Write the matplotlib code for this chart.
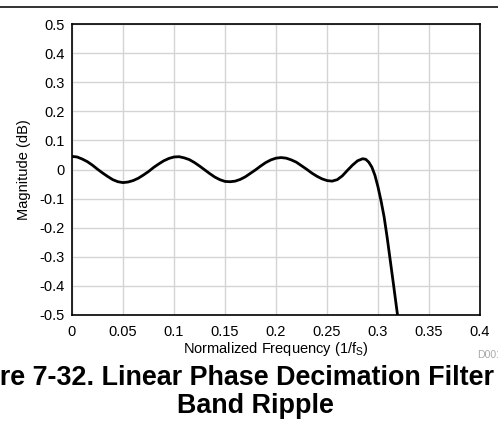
import matplotlib
matplotlib.use('Agg')
from matplotlib import pyplot as plt
from matplotlib.lines import Line2D

plt.rcParams['font.family'] = ['Liberation Sans', 'DejaVu Sans']
plt.rcParams['mathtext.fontset'] = 'custom'
plt.rcParams['mathtext.rm'] = 'Liberation Sans'
plt.rcParams['mathtext.it'] = 'Liberation Sans:italic'

# pass-band ripple
freq = [0.000, 0.005, 0.010, 0.015, 0.020, 0.025, 0.030, 0.035, 0.040, 0.045,
        0.050, 0.055, 0.060, 0.065, 0.070, 0.075, 0.080, 0.085, 0.090, 0.095,
        0.100, 0.105, 0.110, 0.115, 0.120, 0.125, 0.130, 0.135, 0.140, 0.145,
        0.150, 0.155, 0.160, 0.165, 0.170, 0.175, 0.180, 0.185, 0.190, 0.195,
        0.200, 0.205, 0.210, 0.215, 0.220, 0.225, 0.230, 0.235, 0.240, 0.245,
        0.250, 0.255, 0.260, 0.265, 0.270, 0.275, 0.280, 0.285, 0.288, 0.291,
        0.294, 0.297, 0.300, 0.303, 0.306, 0.309, 0.312, 0.315, 0.318, 0.321]
mag_db = [0.045, 0.043, 0.036, 0.027, 0.015, 0.001, -0.012, -0.024, -0.035, -0.042,
          -0.045, -0.043, -0.038, -0.030, -0.019, -0.007, 0.007, 0.019, 0.030, 0.038,
          0.043, 0.044, 0.040, 0.034, 0.024, 0.012, -0.001, -0.014, -0.026, -0.035,
          -0.041, -0.042, -0.040, -0.034, -0.025, -0.013, -0.001, 0.012, 0.024, 0.033,
          0.039, 0.041, 0.039, 0.033, 0.025, 0.013, 0.001, -0.012, -0.023, -0.032,
          -0.038, -0.040, -0.035, -0.022, -0.003, 0.015, 0.030, 0.037, 0.035, 0.025,
          0.008, -0.020, -0.060, -0.108, -0.163, -0.234, -0.312, -0.390, -0.470, -0.548]

xticks = [0, 0.05, 0.1, 0.15, 0.2, 0.25, 0.3, 0.35, 0.4]
xlabels = ['0', '0.05', '0.1', '0.15', '0.2', '0.25', '0.3', '0.35', '0.4']
yticks = [0.5, 0.4, 0.3, 0.2, 0.1, 0, -0.1, -0.2, -0.3, -0.4, -0.5]
ylabels = ['0.5', '0.4', '0.3', '0.2', '0.1', '0', '-0.1', '-0.2', '-0.3', '-0.4', '-0.5']

fig = plt.figure(figsize=(4.98, 4.34), dpi=100)
ax = fig.add_axes([72/498, 1-315/434, 408/498, 291/434])

ax.plot(freq, mag_db, color='black', linewidth=2)
ax.set_xlim(0, 0.4)
ax.set_ylim(-0.5, 0.5)
ax.set_xticks(xticks)
ax.set_xticklabels(xlabels)
ax.set_yticks(yticks)
ax.set_yticklabels(ylabels)
ax.tick_params(length=0, labelsize=10.5)
ax.tick_params(axis='x', pad=7)
ax.tick_params(axis='y', pad=5)
ax.grid(True, color='#d4d4d4', linewidth=1)
ax.set_axisbelow(True)
for s in ax.spines.values():
    s.set_linewidth(1.2)
ax.set_xlabel('Normalized Frequency (1/f$_\\mathrm{S}$)', fontsize=10.5, labelpad=1)
ax.set_ylabel('Magnitude (dB)', fontsize=10.5, labelpad=6)

# rule across the top of the page
fig.add_artist(Line2D([0, 1], [1-7/434, 1-7/434], color='#222222', linewidth=1.3))

fig.text(477/498, 1-355/434, 'D001', color='#aaaaaa', fontsize=7.6, va='center', ha='left')

# caption runs off the left edge in the reference: "Figu" sits outside the page
title_font = dict(fontsize=19.4, fontweight='bold')
probe = fig.text(0, 0, 'Figu', **title_font)
r = fig.canvas.get_renderer()
w = probe.get_window_extent(renderer=r).width
probe.remove()
fig.text(-w/498, 1-378/434, 'Figure 7-32. Linear Phase Decimation Filter Pass-',
         ha='left', va='center', **title_font)
fig.text(255/498, 1-406/434, 'Band Ripple', ha='center', va='center', **title_font)

plt.savefig('out.png', dpi=100)
